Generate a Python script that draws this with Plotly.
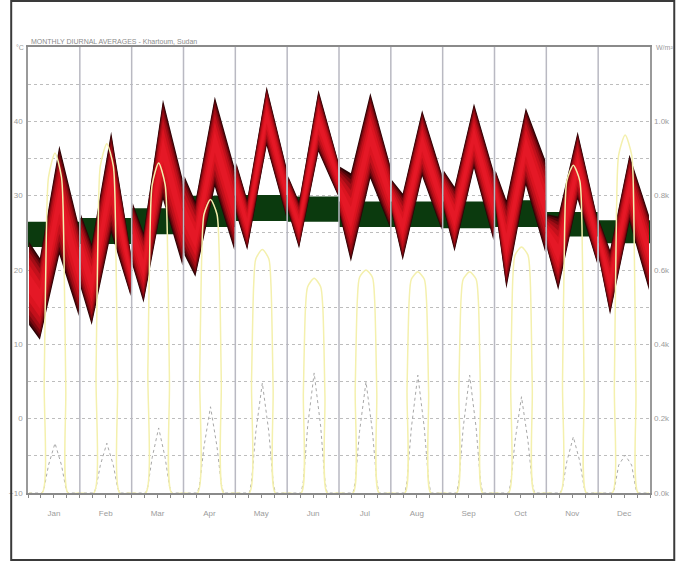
import plotly.graph_objects as go

# Monthly diurnal averages - Khartoum, Sudan
MONTHS = ['Jan', 'Feb', 'Mar', 'Apr', 'May', 'Jun', 'Jul', 'Aug', 'Sep', 'Oct', 'Nov', 'Dec']

# dry bulb temperature band (upper / lower edge), degC at these hours
TEMP_HOURS = [0, 5, 14, 23]
TEMP_HIGH = [
    [23.8, 21.6, 36.7, 26.0], [27.5, 23.5, 38.6, 22.5], [29.0, 25.0, 42.9, 32.3],
    [32.6, 29.2, 43.3, 33.9], [34.4, 29.5, 44.7, 34.0], [32.6, 29.2, 44.2, 34.8],
    [33.9, 33.0, 43.8, 34.3], [32.1, 30.3, 41.5, 33.0], [33.4, 31.2, 42.4, 33.4],
    [33.4, 29.4, 41.8, 34.8], [27.5, 27.2, 38.6, 27.2], [26.7, 22.7, 35.5, 27.4],
]
TEMP_LOW = [
    [12.6, 10.6, 22.1, 13.8], [17.5, 12.6, 25.0, 16.5], [20.5, 15.6, 29.5, 20.6],
    [22.0, 19.1, 31.2, 22.7], [27.5, 22.7, 36.7, 27.2], [27.8, 22.9, 35.9, 30.0],
    [27.2, 21.1, 32.3, 25.8], [27.6, 21.3, 32.6, 25.4], [28.1, 22.5, 33.7, 24.0],
    [28.1, 17.5, 31.4, 22.4], [22.7, 17.3, 29.5, 20.9], [21.3, 14.0, 26.5, 17.3],
]

# comfort zone, degC
COMFORT_LOW = [23.1, 23.5, 24.8, 25.8, 26.6, 26.5, 25.8, 25.8, 25.6, 25.8, 24.5, 23.6]
COMFORT_HIGH = [26.5, 27.0, 28.3, 30.0, 30.1, 29.9, 29.2, 29.2, 29.2, 29.4, 27.8, 26.7]

# direct solar radiation, W/m2
SUN_HOURS = [6, 7, 8, 9, 12, 15, 16, 17, 18]
DIRECT = [
    [0, 300, 700, 850, 915, 850, 700, 280, 0],
    [0, 320, 730, 880, 940, 880, 730, 300, 0],
    [0, 330, 700, 830, 888, 830, 700, 300, 0],
    [0, 320, 650, 750, 790, 750, 650, 300, 0],
    [0, 300, 560, 630, 655, 630, 560, 280, 0],
    [0, 270, 500, 555, 578, 555, 500, 260, 0],
    [0, 280, 520, 580, 600, 580, 520, 270, 0],
    [0, 280, 520, 575, 595, 575, 520, 270, 0],
    [0, 280, 520, 575, 595, 575, 520, 270, 0],
    [0, 300, 580, 640, 662, 640, 580, 280, 0],
    [0, 300, 720, 840, 882, 840, 720, 280, 0],
    [0, 290, 760, 910, 963, 910, 760, 270, 0],
]

# diffuse solar radiation, W/m2
DIFF_HOURS = [6, 7, 9, 12, 15, 17, 18]
DIFFUSE = [
    [0, 14, 75, 134, 75, 14, 0],
    [0, 14, 75, 134, 75, 14, 0],
    [0, 18, 95, 175, 95, 18, 0],
    [0, 25, 125, 232, 125, 25, 0],
    [0, 30, 165, 296, 165, 30, 0],
    [0, 32, 180, 323, 180, 32, 0],
    [0, 30, 165, 299, 165, 30, 0],
    [0, 32, 175, 317, 175, 32, 0],
    [0, 32, 175, 317, 175, 32, 0],
    [0, 26, 140, 259, 140, 26, 0],
    [0, 15, 85, 151, 85, 15, 0],
    [0, 10, 75, 102, 75, 10, 0],
]

fig = go.Figure()

# comfort band
for m in range(len(MONTHS)):
    x0, x1 = m * 24, m * 24 + 24
    fig.add_trace(go.Scatter(
        x=[x0, x1, x1, x0], y=[COMFORT_LOW[m], COMFORT_LOW[m], COMFORT_HIGH[m], COMFORT_HIGH[m]],
        fill='toself', fillcolor='#0b3a0e', line=dict(width=0), mode='lines',
        hoverinfo='skip', showlegend=False))

# temperature band, shaded from dark edges to bright centre
shades = [(0.0, '#2a0305'), (0.03, '#52050a'), (0.07, '#7c080f'), (0.12, '#a20c15'),
          (0.19, '#c3101b'), (0.28, '#db1420'), (0.38, '#e51826')]
for m in range(len(MONTHS)):
    xs = [m * 24 + h + 0.5 for h in TEMP_HOURS]
    hi, lo = TEMP_HIGH[m], TEMP_LOW[m]
    for t, col in shades:
        up = [a - t * (a - b) for a, b in zip(hi, lo)]
        dn = [b + t * (a - b) for a, b in zip(hi, lo)]
        fig.add_trace(go.Scatter(
            x=xs + xs[::-1], y=up + dn[::-1], fill='toself', fillcolor=col,
            line=dict(width=0), mode='lines', hoverinfo='skip', showlegend=False))

# radiation curves on the right axis
def day_series(hours, table):
    xs, ys = [], []
    for m, vals in enumerate(table):
        xs += [m * 24 + 0.5] + [m * 24 + h + 0.5 for h in hours] + [m * 24 + 23.5]
        ys += [0] + list(vals) + [0]
    return xs, ys

dx, dy = day_series(DIFF_HOURS, DIFFUSE)
fig.add_trace(go.Scatter(x=dx, y=dy, yaxis='y2', mode='lines',
                         line=dict(color='#a8a8a8', width=1, dash='dot'),
                         hoverinfo='skip', showlegend=False))
sx, sy = day_series(SUN_HOURS, DIRECT)
fig.add_trace(go.Scatter(x=sx, y=sy, yaxis='y2', mode='lines',
                         line=dict(color='#f4f0ad', width=1.5, shape='spline', smoothing=0.7),
                         hoverinfo='skip', showlegend=False))

# month separators
for m in range(1, len(MONTHS)):
    fig.add_shape(type='line', xref='x', yref='paper', x0=m * 24, x1=m * 24, y0=0, y1=1,
                  line=dict(color='#b9b9c2', width=1.5), layer='above')

# outer frame
fig.add_shape(type='rect', xref='paper', yref='paper', x0=-0.027, x1=1.039, y0=-0.150, y1=1.103,
              line=dict(color='#3a3a3a', width=2), layer='above')

tick_font = dict(family='Liberation Sans', size=8, color='#9c9c9c')
small_font = dict(family='Liberation Sans', size=7, color='#9c9c9c')

fig.update_layout(
    width=676, height=563,
    margin=dict(l=28, r=26, t=47, b=70, autoexpand=False),
    paper_bgcolor='white', plot_bgcolor='white',
    xaxis=dict(
        range=[0, 288], tickvals=[m * 24 + 12 for m in range(12)], ticktext=MONTHS,
        ticks='outside', ticklen=3, tickcolor='#888', tickfont=tick_font,
        ticklabelstandoff=9, showgrid=False, zeroline=False, automargin=False,
        showline=True, linecolor='#8a8a8a', linewidth=1.5, mirror=True, layer='below traces',
        minor=dict(dtick=6, tick0=0, ticks='outside', ticklen=3, tickcolor='#888'),
    ),
    yaxis=dict(
        range=[-10, 50], tickvals=[-10, 0, 10, 20, 30, 40], tickfont=tick_font,
        ticks='', showgrid=True, gridcolor='#bdbdbd', griddash='dot', gridwidth=1,
        minor=dict(dtick=5, tick0=0, showgrid=True, gridcolor='#bdbdbd', griddash='dot'),
        zeroline=False, showline=True, linecolor='#9a9a9a', linewidth=1.5, mirror=True,
        ticklabelstandoff=2, automargin=False,
    ),
    yaxis2=dict(
        range=[0, 1200], overlaying='y', side='right',
        tickvals=[0, 200, 400, 600, 800, 1000],
        ticktext=['0.0k', '0.2k', '0.4k', '0.6k', '0.8k', '1.0k'],
        tickfont=tick_font, showgrid=False, zeroline=False, ticks='', ticklabelstandoff=3,
        automargin=False,
    ),
    annotations=[
        dict(text='MONTHLY DIURNAL AVERAGES - Khartoum, Sudan', xref='paper', yref='paper',
             x=0.002, y=1.0, xanchor='left', yanchor='bottom', showarrow=False,
             font=dict(family='Liberation Sans', size=7, color='#8c8c8c')),
        dict(text='°C', xref='paper', yref='paper', x=-0.004, y=1.0, xanchor='right',
             yanchor='middle', showarrow=False, font=small_font),
        dict(text='W/m²', xref='paper', yref='paper', x=1.006, y=1.0, xanchor='left',
             yanchor='middle', showarrow=False, font=small_font),
    ],
)

# page without the default body margin so the figure sits at the window's corner
fig.write_html('out.html', config={'displayModeBar': False},
               post_script="document.body.style.margin='0px';")
